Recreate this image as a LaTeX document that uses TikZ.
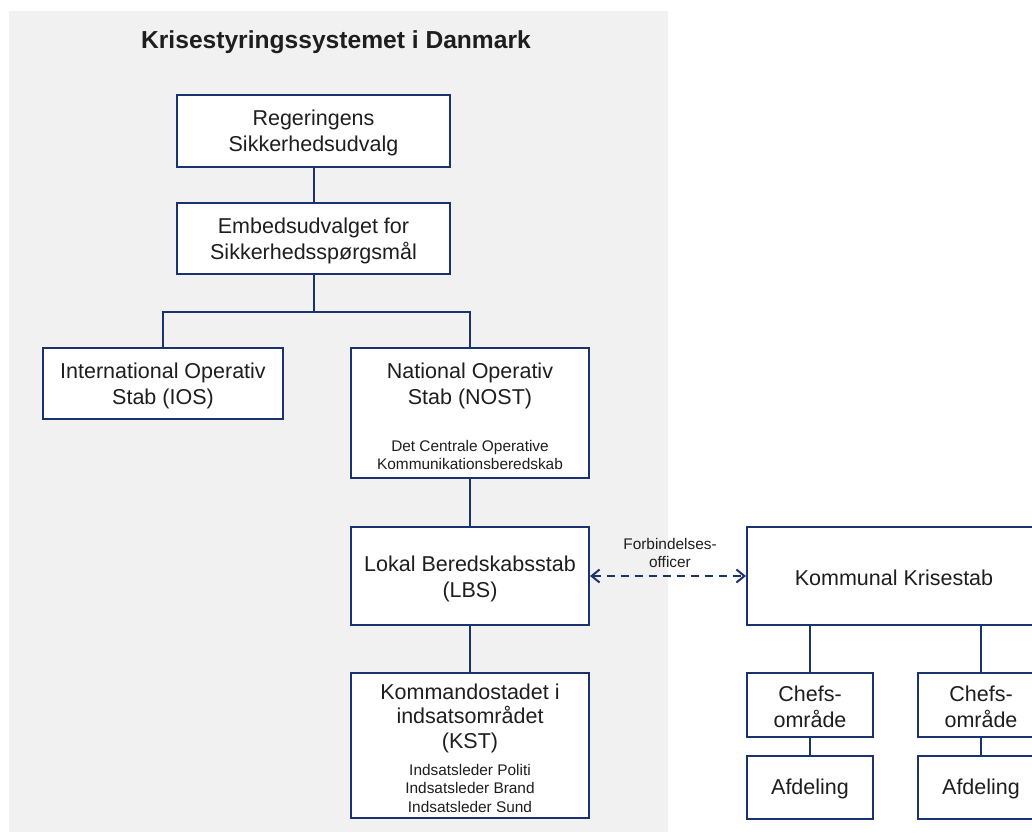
\documentclass[tikz,border=0pt]{standalone}
\usepackage{fontspec}
\setmainfont{Liberation Sans}
\usetikzlibrary{arrows.meta}
\definecolor{navy}{HTML}{1B3270}
\definecolor{bggray}{HTML}{F1F1F1}
\definecolor{txtc}{HTML}{1E1E1E}
\begin{document}
\begin{tikzpicture}[x=1pt,y=-1pt,
  box/.style={draw=navy, line width=2pt, fill=white, inner sep=0pt},
  big/.style={text=txtc, align=center, inner sep=0pt, font=\fontsize{21.5}{26}\selectfont},
  small/.style={text=txtc, align=center, inner sep=0pt, font=\fontsize{15.4}{18.5}\selectfont},
  conn/.style={draw=navy, line width=2pt},
  link/.style={draw=navy, line width=2pt, dash pattern=on 8pt off 6pt,
    {Straight Barb[length=8pt,width=13pt]}-{Straight Barb[length=8pt,width=13pt]}},
]
\clip (0,0) rectangle (1032,832);
\fill[white] (0,0) rectangle (1032,832);
\fill[bggray] (9,11) rectangle (668,832);

% title
\node[text=txtc, inner sep=0pt, font=\fontsize{24.6}{29}\selectfont\bfseries] (title) at (336,42) {Krisestyringssystemet i Danmark};

% boxes
\node[box, minimum width=273pt, minimum height=72pt] (reg) at (313.5,131) {};
\node[box, minimum width=273pt, minimum height=71pt] (emb) at (313.5,238.5) {};
\node[box, minimum width=240pt, minimum height=71pt] (ios) at (163,383.5) {};
\node[box, minimum width=238pt, minimum height=130pt] (nost) at (470,413) {};
\node[box, minimum width=238pt, minimum height=98pt] (lbs) at (470,576) {};
\node[box, minimum width=238pt, minimum height=145pt] (kst) at (470,745.5) {};
\node[box, minimum width=294pt, minimum height=98pt] (kk) at (894,576) {};
\node[box, minimum width=126pt, minimum height=64pt] (ch1) at (810,705) {};
\node[box, minimum width=126pt, minimum height=64pt] (ch2) at (981,705) {};
\node[box, minimum width=126pt, minimum height=63pt] (af1) at (810,787.5) {};
\node[box, minimum width=126pt, minimum height=63pt] (af2) at (981,787.5) {};

% texts
\node[big] (regt) at (313.5,133) {Regeringens\\Sikkerhedsudvalg};
\node[big] (embt) at (313.5,240.5) {Embedsudvalget for\\Sikkerhedsspørgsmål};
\node[big] (iost) at (163,386) {International Operativ\\Stab (IOS)};
\node[big] (nostt) at (470,385.5) {National Operativ\\Stab (NOST)};
\node[small] (nosts) at (470,455) {Det Centrale Operative\\Kommunikationsberedskab};
\node[big] (lbst) at (470,579) {Lokal Beredskabsstab\\(LBS)};
\node[big, font=\fontsize{21.5}{24.5}\selectfont] (kstt) at (470,718) {Kommandostadet i\\indsatsområdet\\(KST)};
\node[small] (ksts) at (470,788) {Indsatsleder Politi\\Indsatsleder Brand\\Indsatsleder Sund};
\node[big] (kkt) at (894,578) {Kommunal Krisestab};
\node[big] (ch1t) at (810,707) {Chefs-\\område};
\node[big] (ch2t) at (981,707) {Chefs-\\område};
\node[big] (af1t) at (810,789) {Afdeling};
\node[big] (af2t) at (981,789) {Afdeling};
\node[small] (forb) at (670,553) {Forbindelses-\\officer};

% connectors
\draw[conn] (reg.south) -- (emb.north);
\draw[conn] (emb.south) -- ++(0,37) -| (ios.north);
\draw[conn] (emb.south) -- ++(0,37) -| (nost.north);
\draw[conn] (nost.south) -- (lbs.north);
\draw[conn] (lbs.south) -- (kst.north);
\draw[conn] (kk.south -| ch1.north) -- (ch1.north);
\draw[conn] (kk.south -| ch2.north) -- (ch2.north);
\draw[conn] (ch1.south) -- (af1.north);
\draw[conn] (ch2.south) -- (af2.north);
\draw[link] (lbs.east) -- (kk.west);
\end{tikzpicture}
\end{document}
